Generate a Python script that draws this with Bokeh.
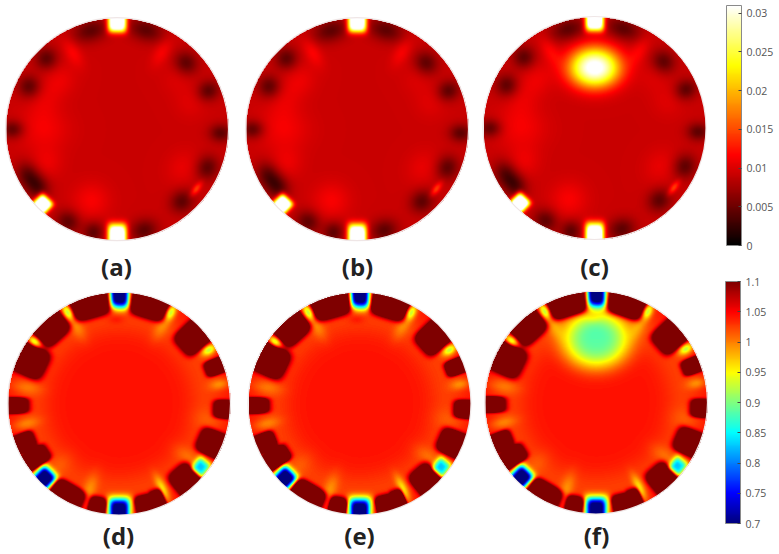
import numpy as np
from bokeh.plotting import figure
from bokeh.models import LinearColorMapper, ColorBar, FixedTicker, Range1d
from bokeh.core.properties import value
from bokeh.embed import file_html
from bokeh.resources import INLINE

# ---- values ----
panel_labels = ["(a)", "(b)", "(c)", "(d)", "(e)", "(f)"]
hot_ticks = [0, 0.005, 0.01, 0.015, 0.02, 0.025, 0.03]
hot_tick_labels = ["0", "0.005", "0.01", "0.015", "0.02", "0.025", "0.03"]
jet_ticks = [0.7, 0.75, 0.8, 0.85, 0.9, 0.95, 1, 1.05, 1.1]
jet_tick_labels = ["0.7", "0.75", "0.8", "0.85", "0.9", "0.95", "1", "1.05", "1.1"]

# Fields are estimated spot by spot: (angle deg, radius, amount, tangential width, radial width, sharpness)
upper_base = 0.0092
upper_dark = [(105, .92, .16), (135, .90, .10), (154, .88, .10), (180, .94, .08), (207, .90, .12), (216, .88, .11),
              (242, .94, .11), (257, .95, .09), (285, .94, .12), (312, .87, .11), (337, .88, .11), (358, .93, .08),
              (23, .89, .09), (44, .86, .11), (74, .93, .16)]
upper_bright = [(120, .80, .0024, .07, .14, 2), (60, .80, .0022, .07, .14, 2), (323, .89, .0055, .07, .03, 2),
                (180, .66, .0020, .18, .22, 2), (250, .68, .0022, .16, .16, 2), (205, .70, .0016, .14, .14, 2),
                (330, .68, .0014, .16, .14, 2), (20, .70, .0010, .14, .14, 2), (160, .70, .0012, .16, .14, 2),
                (140, .68, .0016, .16, .14, 2), (40, .70, .0008, .14, .14, 2)]
upper_electrodes = [(90, .98, .035, .08, .10, 3), (225, .95, .035, .07, .07, 3), (270, .97, .035, .08, .115, 3)]
upper_lesion = [(90, .545, .023, .23, .18, 2.3)]

lower_base = 1.043
lower_blocks = [(106, .95, .175, .13), (132, .93, .14, .13), (154, .91, .13, .16), (181, .99, .065, .16),
                (202, .94, .075, .11), (213, .91, .075, .13), (240, .95, .15, .10), (258, .98, .075, .11),
                (284, .97, .075, .11), (292, .96, .055, .11), (311, .93, .11, .14), (337, .93, .105, .14),
                (357, .99, .075, .13), (21, .95, .065, .11), (42, .91, .115, .15), (73, .95, .165, .13)]
lower_electrodes = [(90, .98, -.40, .09, .12, 3), (225, .95, -.40, .09, .09, 3), (270, .97, -.40, .095, .12, 3),
                    (322, .93, -.20, .08, .07, 3)]
lower_gaps = [(119, .94, -.13, .05, .08, 2), (144, .94, -.12, .05, .07, 2), (61, .94, -.13, .045, .08, 2),
              (31, .94, -.11, .045, .07, 2), (119, .80, -.03, .06, .13, 2), (61, .80, -.03, .06, .13, 2),
              (251, .84, -.035, .06, .16, 2), (297, .86, -.07, .04, .12, 2), (322, .78, -.02, .07, .14, 2),
              (170, .86, -.025, .06, .14, 2), (192, .86, -.03, .05, .12, 2), (11, .92, -.04, .05, .09, 2),
              (350, .82, -.012, .09, .14, 2), (226, .78, -.012, .08, .14, 2), (92, .76, .014, .07, .04, 2)]
lower_lesion = [(90, .56, -.155, .30, .25, 3)]

# pixel centres and radii of the six discs, top row then bottom row
disc_x = [116.5, 356.5, 594, 118.5, 359, 595.5]
disc_y = [128.7, 128.7, 127.5, 403, 403, 402]
disc_r = [111.5, 111.5, 111.5, 111.5, 111.5, 111.5]
label_x = [116, 357, 594, 118, 359, 596]
label_y = [266, 266, 266, 535, 535, 535]

N = 446
yy, xx = np.mgrid[1:-1:N * 1j, -1:1:N * 1j]  # row 0 is the top of the disc


def spot(a, r, amp, wt, wr, p, square=False):
    th = np.deg2rad(a)
    cx, cy = r * np.cos(th), r * np.sin(th)
    u = np.abs(((xx - cx) * -np.sin(th) + (yy - cy) * np.cos(th)) / wt)
    v = np.abs(((xx - cx) * np.cos(th) + (yy - cy) * np.sin(th)) / wr)
    d = (u ** 4 + v ** 4) ** .25 if square else np.hypot(u, v)
    return amp * np.exp(-d ** p)


def upper(lesion=False):
    f = np.full_like(xx, upper_base)
    for a, r, wt in upper_dark:
        f += spot(a, r, -.0048, wt, .10, 2)
    for s in upper_bright:
        f += spot(*s)
    for s in upper_electrodes:
        f += spot(*s, square=True)
    if lesion:
        f += spot(*upper_lesion[0])
    return f


def lower(lesion=False):
    rr = np.hypot(xx, yy)
    f = lower_base - .017 * np.exp(-((rr - .78) / .17) ** 2)
    for a, r, wt, wr in lower_blocks:
        f += spot(a, r, .30, wt, wr, 4, square=True)
    for s in lower_gaps:
        f += spot(*s)
    for s in lower_electrodes:
        f += spot(*s, square=True)
    if lesion:
        f += spot(*lower_lesion[0])
    return f


def jet(n=256):
    t = np.linspace(0, 1, n)
    r = np.clip(1.5 - np.abs(4 * t - 3), 0, 1)
    g = np.clip(1.5 - np.abs(4 * t - 2), 0, 1)
    b = np.clip(1.5 - np.abs(4 * t - 1), 0, 1)
    return ["#%02x%02x%02x" % (int(a * 255), int(c * 255), int(d * 255)) for a, c, d in zip(r, g, b)]


def hot(n=256):
    t = np.linspace(0, 1, n)
    r = np.clip(t / .375, 0, 1)
    g = np.clip((t - .375) / .375, 0, 1)
    b = np.clip((t - .75) / .25, 0, 1)
    return ["#%02x%02x%02x" % (int(a * 255), int(c * 255), int(d * 255)) for a, c, d in zip(r, g, b)]


W, H = 779, 554
p = figure(width=W, height=H, x_range=Range1d(0, W), y_range=Range1d(H, 0), output_backend="svg",
           toolbar_location=None, min_border=0, outline_line_color=None, background_fill_color="white")
p.axis.visible = False
p.grid.visible = False

hot_map = LinearColorMapper(palette=hot(), low=0, high=0.031, nan_color="#00000000")
jet_map = LinearColorMapper(palette=jet(), low=0.7, high=1.1, nan_color="#00000000")
fields = [upper(), upper(), upper(True), lower(), lower(), lower(True)]
mask = np.hypot(xx, yy) > 1.0
for i, f in enumerate(fields):
    img = f.copy()
    img[mask] = np.nan
    r = disc_r[i]
    p.image(image=[img], x=disc_x[i] - r, y=disc_y[i] - r, dw=2 * r, dh=2 * r,
            color_mapper=hot_map if i < 3 else jet_map)
    p.circle(x=[disc_x[i]], y=[disc_y[i]], radius=r, fill_color=None, line_color="#efe6e6", line_width=1.2)

p.text(x=label_x, y=label_y, text=panel_labels, text_align="center", text_baseline="middle",
       text_font=value("Open Sans"), text_font_size="24px", text_font_style="bold", text_color="#222222")

for mapper, ticks, labels, loc, hgt in [
    (hot_map, hot_ticks, hot_tick_labels, (726, H - 245), 240),
    (jet_map, jet_ticks, jet_tick_labels, (725, H - 523), 242),
]:
    cb = ColorBar(color_mapper=mapper, ticker=FixedTicker(ticks=ticks),
                  major_label_overrides=dict(zip(ticks, labels)),
                  width=15, height=hgt, location=loc, padding=0, margin=0,
                  background_fill_alpha=0, border_line_color=None, bar_line_color="#8a8a8a", bar_line_width=1,
                  major_tick_line_color="#444444", major_tick_in=3, major_tick_out=0, minor_tick_line_color=None,
                  label_standoff=5, major_label_text_color="#555555", major_label_text_font_size="10.5px",
                  major_label_text_font="Open Sans")
    p.add_layout(cb, "center")

html = file_html(p, INLINE).replace("<body>", '<body style="margin:0;overflow:hidden">')
open("out.html", "w").write(html)
